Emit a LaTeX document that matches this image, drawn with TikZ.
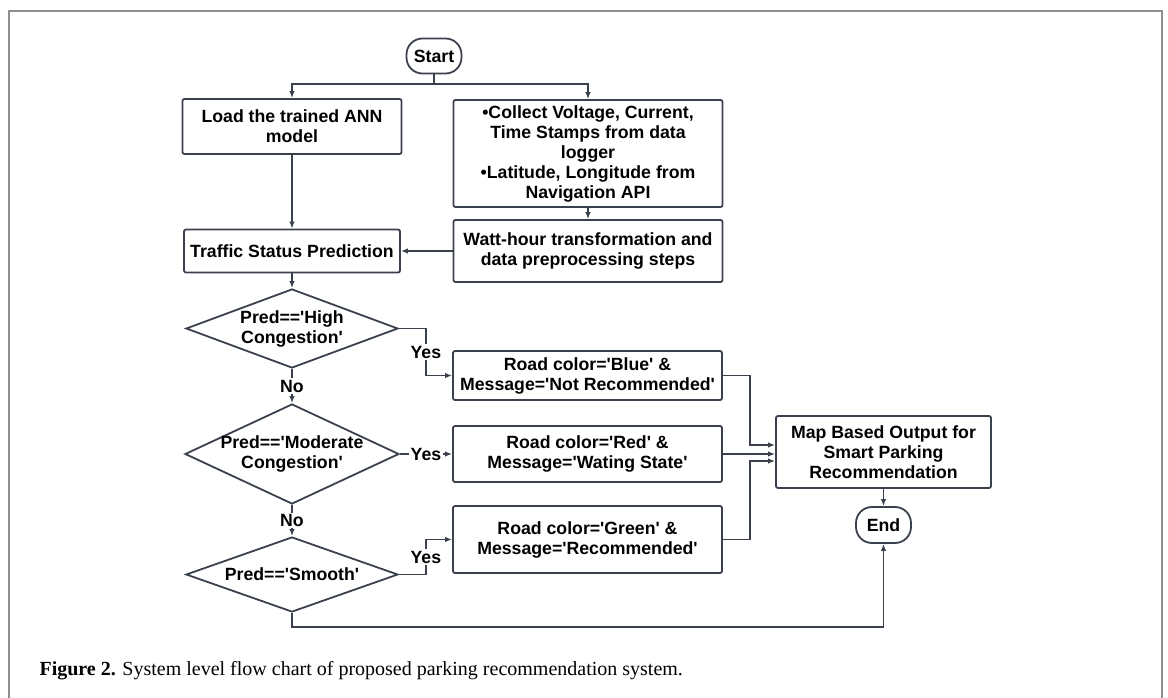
\documentclass[tikz,border=0pt]{standalone}
\usepackage{fontspec}
\setmainfont{Liberation Sans}
\newfontfamily\capfont{Liberation Serif}
\usetikzlibrary{arrows.meta,shapes.geometric}

\definecolor{ink}{HTML}{3B414C}
\definecolor{framegray}{HTML}{8E8E8E}
\newcommand{\chartfont}{\bfseries\fontsize{17.7}{20}\selectfont}
\newcommand{\sq}{\textquotesingle}
\tikzset{
  box/.style={draw=ink, line width=1.8pt, rounded corners=2pt, inner sep=0pt, align=center, font=\chartfont},
  term/.style={draw=ink, line width=1.8pt, rounded corners=16pt, inner sep=0pt, minimum width=55pt, minimum height=35pt, font=\chartfont},
  decision/.style={diamond, draw=ink, line width=1.8pt, aspect=2, inner sep=-12pt, align=center, font=\chartfont},
  link/.style={draw=ink, line width=1.6pt, -{Latex[length=7pt,width=5.5pt]}},
  wire/.style={draw=ink, line width=1.6pt},
  tag/.style={fill=white, inner sep=1.5pt, font=\chartfont},
}

\begin{document}
\begin{tikzpicture}[x=1pt,y=-1pt]
\useasboundingbox (0,0) rectangle (1168,698);
\draw[framegray, line width=1.3pt] (9,698) |- (1162,11) -- (1162,698);

\node[term] (start) at (434,56) {Start};
\node[box, minimum width=219pt, minimum height=55pt] (load) at (292,126.5) {Load the trained ANN\\model};
\node[box, minimum width=269pt, minimum height=107pt] (collect) at (588,153.5) {•Collect Voltage, Current,\\Time Stamps from data\\logger\\•Latitude, Longitude from\\Navigation API};
\node[box, minimum width=269pt, minimum height=62pt] (watt) at (588,251) {Watt-hour transformation and\\data preprocessing steps};
\node[box, minimum width=216pt, minimum height=43pt] (traffic) at (292,251) {Traffic Status Prediction};
\node[decision, minimum width=212pt, minimum height=79pt] (high) at (292,328.5) {Pred==\sq High\\Congestion\sq};
\node[decision, minimum width=214pt, minimum height=100pt] (moderate) at (292,454) {Pred==\sq Moderate\\Congestion\sq};
\node[decision, minimum width=212pt, minimum height=75pt] (smooth) at (292,574.5) {Pred==\sq Smooth\sq};
\node[box, minimum width=269pt, minimum height=49pt] (blue) at (587.5,375.5) {Road color=\sq Blue\sq{} \&\\Message=\sq Not Recommended\sq};
\node[box, minimum width=269pt, minimum height=56pt] (red) at (587.5,454) {Road color=\sq Red\sq{} \&\\Message=\sq Wating State\sq};
\node[box, minimum width=269pt, minimum height=67pt] (green) at (587.5,539.5) {Road color=\sq Green\sq{} \&\\Message=\sq Recommended\sq};
\node[box, minimum width=215pt, minimum height=72pt] (map) at (883.5,452) {Map Based Output for\\Smart Parking\\Recommendation};
\node[term, minimum height=36pt] (end) at (883.5,525) {End};

\coordinate (fork) at (434,84);
\draw[wire] (start.south) -- (fork);
\draw[link] (fork) -| (load.north);
\draw[link] (fork) -| (collect.north);
\draw[link] (collect.south) -- (watt.north);
\draw[link] (load.south) -- (traffic.north);
\draw[link] (watt.west) -- (traffic.east);
\draw[link] (traffic.south) -- (high.north);

\draw[link] (high.south) -- (moderate.north) node[tag, midway] (no1) {No};
\draw[link] (moderate.south) -- (smooth.north) node[tag, midway] (no2) {No};
\draw[link] (high.east) -- ++(27,0) |- (blue.west) node[tag, pos=0.25] (yes1) {Yes};
\draw[link] (moderate.east) -- (red.west) node[tag, midway] (yes2) {Yes};
\draw[link] (smooth.east) -- ++(27,0) |- (green.west) node[tag, pos=0.25] (yes3) {Yes};

\draw[link] (blue.east) -- ++(27,0) |- ([yshift=7pt]map.west);
\draw[link] (red.east) -- (red.east -| map.west);
\draw[link] (green.east) -- ++(27,0) |- ([yshift=-9pt]map.west);
\draw[link] (map.south) -- (end.north);
\draw[link] (smooth.south) -- ++(0,14) -| (end.south);

\node[anchor=west] (caption) at (36,671) {\capfont\fontsize{20}{24}\selectfont\textbf{Figure 2.} System level flow chart of proposed parking recommendation system.};
\end{tikzpicture}
\end{document}
